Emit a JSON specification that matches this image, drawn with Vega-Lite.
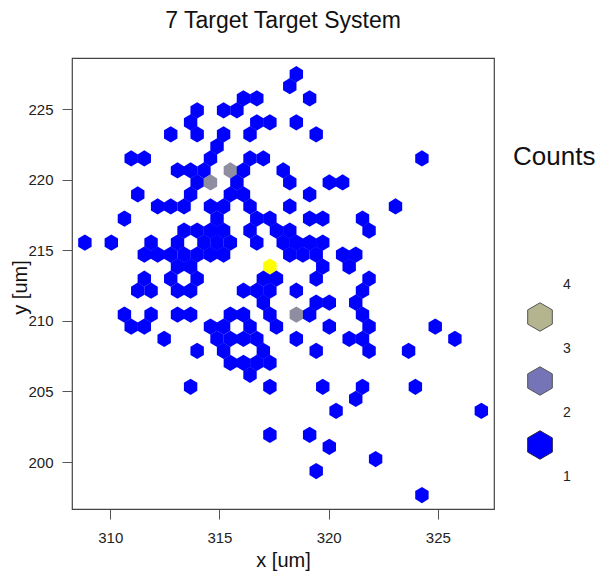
{
  "$schema": "https://vega.github.io/schema/vega-lite/v6.json",
  "width": 422,
  "height": 451,
  "autosize": {"type": "none"},
  "padding": {"left": 72, "top": 58, "right": 115, "bottom": 65},
  "background": "white",
  "config": {"view": {"stroke": "#444444", "strokeWidth": 1.2}, "font": "Liberation Sans"},
  "title": {"text": "7 Target Target System", "fontSize": 23, "font": "Liberation Sans", "fontWeight": "normal", "color": "#111111", "anchor": "middle", "baseline": "alphabetic", "offset": 7},
  "layer": [
    {
      "data": {"values": [
        {"x":318.52,"y":227.48,"n":1},
        {"x":318.22,"y":226.63,"n":1},
        {"x":316.10,"y":225.77,"n":1},{"x":316.71,"y":225.77,"n":1},{"x":319.13,"y":225.77,"n":1},
        {"x":313.98,"y":224.92,"n":1},{"x":315.19,"y":224.92,"n":1},{"x":315.80,"y":224.92,"n":1},
        {"x":313.68,"y":224.07,"n":1},{"x":316.71,"y":224.07,"n":1},{"x":317.31,"y":224.07,"n":1},{"x":318.52,"y":224.07,"n":1},
        {"x":312.77,"y":223.22,"n":1},{"x":313.98,"y":223.22,"n":1},{"x":315.19,"y":223.22,"n":1},{"x":316.40,"y":223.22,"n":1},{"x":319.43,"y":223.22,"n":1},
        {"x":314.89,"y":222.37,"n":1},
        {"x":310.96,"y":221.51,"n":1},{"x":311.56,"y":221.51,"n":1},{"x":314.59,"y":221.51,"n":1},{"x":316.40,"y":221.51,"n":1},{"x":317.01,"y":221.51,"n":1},{"x":324.27,"y":221.51,"n":1},
        {"x":313.08,"y":220.66,"n":1},{"x":313.68,"y":220.66,"n":1},{"x":314.29,"y":220.66,"n":1},{"x":315.50,"y":220.66,"n":2},{"x":316.10,"y":220.66,"n":1},{"x":317.92,"y":220.66,"n":1},
        {"x":313.98,"y":219.81,"n":1},{"x":314.59,"y":219.81,"n":2},{"x":315.80,"y":219.81,"n":1},{"x":318.22,"y":219.81,"n":1},{"x":320.03,"y":219.81,"n":1},{"x":320.64,"y":219.81,"n":1},
        {"x":311.26,"y":218.96,"n":1},{"x":313.68,"y":218.96,"n":1},{"x":315.50,"y":218.96,"n":1},{"x":316.10,"y":218.96,"n":1},{"x":319.13,"y":218.96,"n":1},
        {"x":312.17,"y":218.11,"n":1},{"x":312.77,"y":218.11,"n":1},{"x":313.38,"y":218.11,"n":1},{"x":314.59,"y":218.11,"n":1},{"x":315.19,"y":218.11,"n":1},{"x":316.40,"y":218.11,"n":1},{"x":318.22,"y":218.11,"n":1},{"x":323.06,"y":218.11,"n":1},
        {"x":310.65,"y":217.25,"n":1},{"x":314.89,"y":217.25,"n":1},{"x":316.71,"y":217.25,"n":1},{"x":317.31,"y":217.25,"n":1},{"x":319.13,"y":217.25,"n":1},{"x":319.73,"y":217.25,"n":1},{"x":321.55,"y":217.25,"n":1},
        {"x":313.38,"y":216.40,"n":1},{"x":313.98,"y":216.40,"n":1},{"x":314.59,"y":216.40,"n":1},{"x":315.19,"y":216.40,"n":1},{"x":316.40,"y":216.40,"n":1},{"x":317.61,"y":216.40,"n":1},{"x":318.22,"y":216.40,"n":1},{"x":321.85,"y":216.40,"n":1},
        {"x":308.84,"y":215.55,"n":1},{"x":310.05,"y":215.55,"n":1},{"x":311.87,"y":215.55,"n":1},{"x":313.08,"y":215.55,"n":1},{"x":314.29,"y":215.55,"n":1},{"x":314.89,"y":215.55,"n":1},{"x":315.50,"y":215.55,"n":1},{"x":316.71,"y":215.55,"n":1},{"x":317.92,"y":215.55,"n":1},{"x":318.52,"y":215.55,"n":1},{"x":319.13,"y":215.55,"n":1},{"x":319.73,"y":215.55,"n":1},
        {"x":311.56,"y":214.70,"n":1},{"x":312.17,"y":214.70,"n":1},{"x":312.77,"y":214.70,"n":1},{"x":313.38,"y":214.70,"n":1},{"x":313.98,"y":214.70,"n":1},{"x":314.59,"y":214.70,"n":1},{"x":315.19,"y":214.70,"n":1},{"x":318.22,"y":214.70,"n":1},{"x":318.82,"y":214.70,"n":1},{"x":319.43,"y":214.70,"n":1},{"x":320.64,"y":214.70,"n":1},{"x":321.24,"y":214.70,"n":1},
        {"x":313.08,"y":213.85,"n":1},{"x":313.68,"y":213.85,"n":1},{"x":317.31,"y":213.85,"n":3},{"x":319.73,"y":213.85,"n":1},{"x":320.94,"y":213.85,"n":1},
        {"x":311.56,"y":212.99,"n":1},{"x":312.77,"y":212.99,"n":1},{"x":313.98,"y":212.99,"n":1},{"x":317.01,"y":212.99,"n":1},{"x":317.61,"y":212.99,"n":1},{"x":319.43,"y":212.99,"n":1},{"x":321.85,"y":212.99,"n":1},
        {"x":311.26,"y":212.14,"n":1},{"x":311.87,"y":212.14,"n":1},{"x":313.08,"y":212.14,"n":1},{"x":313.68,"y":212.14,"n":1},{"x":316.10,"y":212.14,"n":1},{"x":316.71,"y":212.14,"n":1},{"x":317.31,"y":212.14,"n":1},{"x":318.52,"y":212.14,"n":1},{"x":321.55,"y":212.14,"n":1},
        {"x":317.01,"y":211.29,"n":1},{"x":319.43,"y":211.29,"n":1},{"x":320.03,"y":211.29,"n":1},{"x":321.24,"y":211.29,"n":1},
        {"x":310.65,"y":210.44,"n":1},{"x":311.87,"y":210.44,"n":1},{"x":313.08,"y":210.44,"n":1},{"x":313.68,"y":210.44,"n":1},{"x":315.50,"y":210.44,"n":1},{"x":316.10,"y":210.44,"n":1},{"x":317.31,"y":210.44,"n":1},{"x":318.52,"y":210.44,"n":2},{"x":319.13,"y":210.44,"n":1},{"x":321.55,"y":210.44,"n":1},
        {"x":310.96,"y":209.59,"n":1},{"x":311.56,"y":209.59,"n":1},{"x":314.59,"y":209.59,"n":1},{"x":315.19,"y":209.59,"n":1},{"x":316.40,"y":209.59,"n":1},{"x":317.61,"y":209.59,"n":1},{"x":320.03,"y":209.59,"n":1},{"x":321.85,"y":209.59,"n":1},{"x":324.88,"y":209.59,"n":1},
        {"x":312.47,"y":208.73,"n":1},{"x":314.89,"y":208.73,"n":1},{"x":315.50,"y":208.73,"n":1},{"x":316.10,"y":208.73,"n":1},{"x":316.71,"y":208.73,"n":1},{"x":318.52,"y":208.73,"n":1},{"x":320.94,"y":208.73,"n":1},{"x":321.55,"y":208.73,"n":1},{"x":325.78,"y":208.73,"n":1},
        {"x":313.98,"y":207.88,"n":1},{"x":315.19,"y":207.88,"n":1},{"x":317.01,"y":207.88,"n":1},{"x":319.43,"y":207.88,"n":1},{"x":321.85,"y":207.88,"n":1},{"x":323.66,"y":207.88,"n":1},
        {"x":315.50,"y":207.03,"n":1},{"x":316.10,"y":207.03,"n":1},{"x":316.71,"y":207.03,"n":1},{"x":317.31,"y":207.03,"n":1},
        {"x":316.40,"y":206.18,"n":1},
        {"x":313.68,"y":205.33,"n":1},{"x":317.31,"y":205.33,"n":1},{"x":319.73,"y":205.33,"n":1},{"x":321.55,"y":205.33,"n":1},{"x":323.97,"y":205.33,"n":1},
        {"x":321.24,"y":204.47,"n":1},
        {"x":320.34,"y":203.62,"n":1},{"x":326.99,"y":203.62,"n":1},
        {"x":317.31,"y":201.92,"n":1},{"x":319.13,"y":201.92,"n":1},
        {"x":320.03,"y":201.07,"n":1},
        {"x":322.15,"y":200.21,"n":1},
        {"x":319.43,"y":199.36,"n":1},
        {"x":324.27,"y":197.66,"n":1}
      ]},
      "mark": {"type": "point", "shape": "M0,-1L0.824,-0.5L0.824,0.5L0,1L-0.824,0.5L-0.824,-0.5Z", "filled": true, "size": 265, "opacity": 1, "strokeWidth": 0},
      "encoding": {
        "x": {"field": "x", "type": "quantitative", "scale": {"domain": [308.25, 327.57], "nice": false, "zero": false},
              "axis": {"title": "x [um]", "values": [310, 315, 320, 325], "domain": false, "grid": false, "tickSize": 10, "tickColor": "#555555", "labelFontSize": 15, "labelColor": "#222222", "labelPadding": 11, "labelFont": "Liberation Sans", "titleFont": "Liberation Sans", "titleFontSize": 20, "titleFontWeight": "normal", "titleColor": "#111111", "titlePadding": 5}},
        "y": {"field": "y", "type": "quantitative", "scale": {"domain": [196.67, 228.63], "nice": false, "zero": false},
              "axis": {"title": "y [um]", "values": [200, 205, 210, 215, 220, 225], "domain": false, "grid": false, "tickSize": 10, "tickColor": "#555555", "labelFontSize": 15, "labelColor": "#222222", "labelPadding": 9, "labelFont": "Liberation Sans", "titleFont": "Liberation Sans", "titleFontSize": 20, "titleFontWeight": "normal", "titleColor": "#111111", "titleX": -52, "titleY": 229, "titleAlign": "center", "titleBaseline": "middle", "titleAngle": -90}},
        "color": {"field": "n", "type": "ordinal", "scale": {"domain": [1, 2, 3], "range": ["#0000FF", "#8E8EA0", "#FFFF00"]}, "legend": null}
      }
    },
    {
      "data": {"values": [
        {"lab": "4"}, {"lab": "k1"}, {"lab": "3"}, {"lab": "k2"}, {"lab": "2"}, {"lab": "k3"}, {"lab": "1"}
      ]},
      "mark": {"type": "point", "shape": "M0,-1L0.866,-0.5L0.866,0.5L0,1L-0.866,0.5L-0.866,-0.5Z", "filled": true, "opacity": 0, "size": 10},
      "encoding": {
        "fill": {"field": "lab", "type": "nominal",
          "scale": {"domain": ["4", "k1", "3", "k2", "2", "k3", "1"], "range": ["transparent", "#B4B48E", "transparent", "#7474B6", "transparent", "#0000FF", "transparent"]},
          "legend": {"title": "Counts", "orient": "none", "legendX": 441, "legendY": 86, "titleFontSize": 26, "titleFont": "Liberation Sans", "titleFontWeight": "normal", "titleColor": "#111111", "titlePadding": 100, "symbolType": "M0,-1L0.866,-0.5L0.866,0.5L0,1L-0.866,0.5L-0.866,-0.5Z", "symbolSize": 810, "symbolStrokeWidth": 1, "symbolOpacity": 1, "symbolOffset": 12, "labelFontSize": 14, "labelFont": "Liberation Sans", "labelColor": "#222222", "labelOffset": 8, "labelExpr": "length(datum.label) > 1 ? '' : datum.label", "rowPadding": -2.5, "padding": 0}},
        "stroke": {"field": "lab", "type": "nominal",
          "scale": {"domain": ["4", "k1", "3", "k2", "2", "k3", "1"], "range": ["transparent", "#555555", "transparent", "#555555", "transparent", "#222244", "transparent"]},
          "legend": {"title": "Counts", "orient": "none", "legendX": 441, "legendY": 86, "titleFontSize": 26, "titleFont": "Liberation Sans", "titleFontWeight": "normal", "titleColor": "#111111", "titlePadding": 100, "symbolType": "M0,-1L0.866,-0.5L0.866,0.5L0,1L-0.866,0.5L-0.866,-0.5Z", "symbolSize": 810, "symbolStrokeWidth": 1, "symbolOpacity": 1, "symbolOffset": 12, "labelFontSize": 14, "labelFont": "Liberation Sans", "labelColor": "#222222", "labelOffset": 8, "labelExpr": "length(datum.label) > 1 ? '' : datum.label", "rowPadding": -2.5, "padding": 0}}
      }
    }
  ]
}
